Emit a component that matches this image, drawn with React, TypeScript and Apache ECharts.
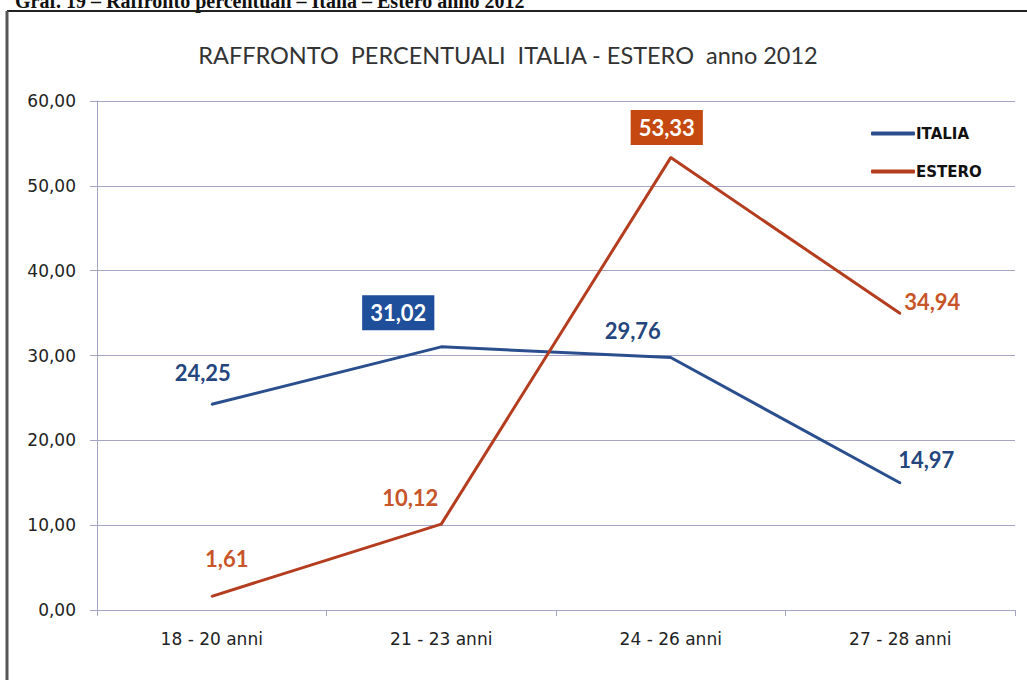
import React, { useEffect, useRef } from "react";
import * as echarts from "echarts";

const categories = ["18 - 20 anni", "21 - 23 anni", "24 - 26 anni", "27 - 28 anni"];
const italia = [24.25, 31.02, 29.76, 14.97];
const estero = [1.61, 10.12, 53.33, 34.94];
const yMin = 0;
const yMax = 60;
const yInterval = 10;
const highlightItalia = 1;
const highlightEstero = 2;

const italiaLabelOffsets = [[-9, -32], [-43, -34], [-38, -27], [26, -24]];
const esteroLabelOffsets = [[15, -38], [-31, -27], [-4, -30], [32, -12]];

const BLUE = "#2B4F8E";
const BLUE_TXT = "#24467D";
const BLUE_BOX = "#1F4E9A";
const RED = "#B43C1F";
const RED_TXT = "#C8552A";
const RED_BOX = "#C4480F";
const GRID = "#a4a4c4";
const FONT = "Lato";
const AXIS_FONT = "DejaVu Sans";

const fmt = (v: number) => v.toFixed(2).replace(".", ",");

function buildData(values: number[], offsets: number[][], hi: number, box: string) {
  return values.map((v, i) => {
    const label: any = { offset: offsets[i] };
    if (i === hi) {
      label.backgroundColor = box;
      label.color = "#ffffff";
      label.padding = [7, 8, 6, 8];
    }
    return { value: v, label };
  });
}

export default function App() {
  const ref = useRef<HTMLDivElement>(null);
  useEffect(() => {
    if (!ref.current) return;
    const chart = echarts.init(ref.current, undefined, { renderer: "svg" });
    chart.setOption({
      animation: false,
      backgroundColor: "#ffffff",
      grid: { left: 97, right: 12, top: 101, bottom: 70, containLabel: false },
      legend: {
        data: ["ITALIA", "ESTERO"],
        orient: "vertical",
        left: 866,
        top: 121,
        itemWidth: 44,
        itemHeight: 4,
        itemGap: 23,
        icon: "roundRect",
        textStyle: { fontFamily: AXIS_FONT, fontWeight: "bold", fontSize: 15, color: "#111", padding: [0, 0, 0, -4] },
      },
      xAxis: {
        type: "category",
        data: categories,
        boundaryGap: true,
        axisLine: { lineStyle: { color: GRID, width: 1 } },
        axisTick: { show: true, length: 6, lineStyle: { color: GRID } },
        axisLabel: { fontFamily: AXIS_FONT, fontSize: 17, color: "#222", margin: 20 },
        splitLine: { show: false },
      },
      yAxis: {
        type: "value",
        min: yMin,
        max: yMax,
        interval: yInterval,
        axisLine: { show: true, lineStyle: { color: GRID, width: 1 } },
        axisTick: { show: true, length: 7, lineStyle: { color: GRID } },
        axisLabel: {
          fontFamily: AXIS_FONT,
          fontSize: 17,
          color: "#222",
          margin: 21,
          formatter: (v: number) => fmt(v),
        },
        splitLine: { show: true, lineStyle: { color: GRID, width: 1 } },
      },
      series: [
        {
          name: "ITALIA",
          type: "line",
          data: buildData(italia, italiaLabelOffsets, highlightItalia, BLUE_BOX),
          symbol: "circle",
          symbolSize: 2,
          showSymbol: true,
          lineStyle: { color: BLUE, width: 3 },
          itemStyle: { color: BLUE },
          label: {
            show: true,
            position: "inside",
            formatter: (p: any) => fmt(p.value),
            fontFamily: FONT,
            fontWeight: "bold",
            fontSize: 22,
            color: BLUE_TXT,
          },
        },
        {
          name: "ESTERO",
          type: "line",
          data: buildData(estero, esteroLabelOffsets, highlightEstero, RED_BOX),
          symbol: "circle",
          symbolSize: 2,
          showSymbol: true,
          lineStyle: { color: RED, width: 3 },
          itemStyle: { color: RED },
          label: {
            show: true,
            position: "inside",
            formatter: (p: any) => fmt(p.value),
            fontFamily: FONT,
            fontWeight: "bold",
            fontSize: 22,
            color: RED_TXT,
          },
        },
      ],
      graphic: [
        {
          type: "text",
          left: 15,
          top: -9,
          style: {
            text: "Graf. 19 – Raffronto percentuali – Italia – Estero anno 2012",
            fontFamily: "Liberation Serif",
            fontWeight: "bold",
            fontSize: 20,
            fill: "#111",
          },
        },
        {
          type: "line",
          shape: { x1: 7, y1: 11, x2: 1027, y2: 11 },
          style: { stroke: "#222", lineWidth: 2 },
        },
        {
          type: "line",
          shape: { x1: 7, y1: 11, x2: 7, y2: 680 },
          style: { stroke: "#555", lineWidth: 3 },
        },
        {
          type: "text",
          x: 508,
          y: 55,
          style: {
            text: "RAFFRONTO  PERCENTUALI  ITALIA - ESTERO  anno 2012",
            fontFamily: FONT,
            fontSize: 23.5,
            fill: "#333",
            textAlign: "center",
            textVerticalAlign: "middle",
          },
        },
      ],
    });
    return () => chart.dispose();
  }, []);
  return (
    <div
      ref={ref}
      style={{ position: "fixed", left: 0, top: 0, width: 1027, height: 680, background: "#fff" }}
    />
  );
}
